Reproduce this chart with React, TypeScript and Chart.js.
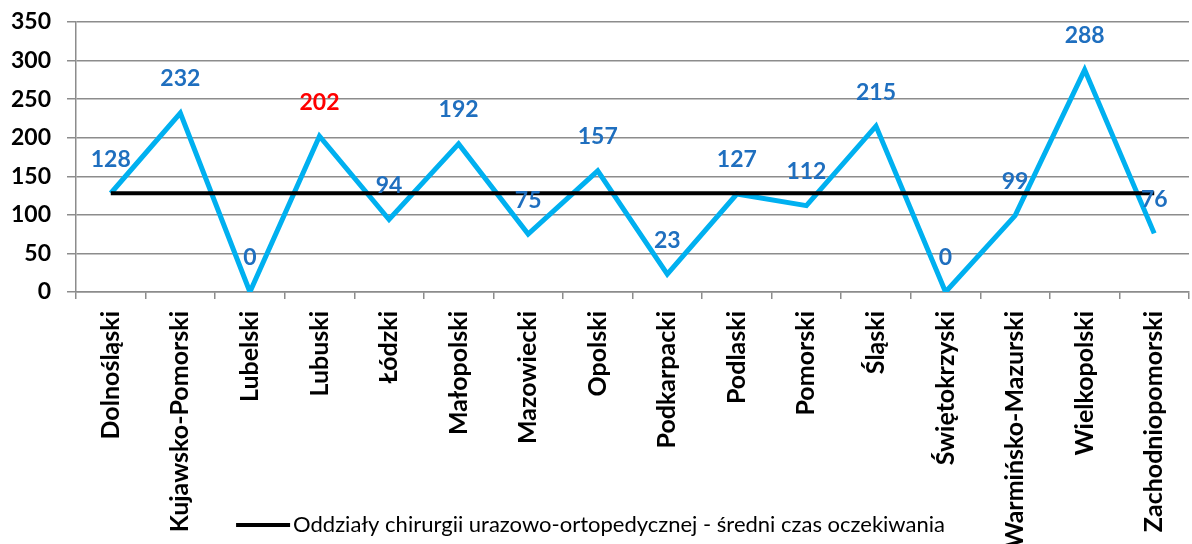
import React, { useEffect, useRef } from "react";
import { Chart, registerables } from "chart.js";

Chart.register(...registerables);

const categories = [
  "Dolnośląski",
  "Kujawsko-Pomorski",
  "Lubelski",
  "Lubuski",
  "Łódzki",
  "Małopolski",
  "Mazowiecki",
  "Opolski",
  "Podkarpacki",
  "Podlaski",
  "Pomorski",
  "Śląski",
  "Świętokrzyski",
  "Warmińsko-Mazurski",
  "Wielkopolski",
  "Zachodniopomorski",
];
const waitTimes = [128, 232, 0, 202, 94, 192, 75, 157, 23, 127, 112, 215, 0, 99, 288, 76];
const averageWait = 128;
const averageSeries = categories.map(() => averageWait);
const highlightedCategories = ["Lubuski"];
const legendLabel = "Oddziały chirurgii urazowo-ortopedycznej - średni czas oczekiwania";
const yTickMin = 0;
const yTickMax = 350;
const yTickStep = 50;

const FONT = 'Lato, "Open Sans", sans-serif';

export default function App() {
  const ref = useRef<HTMLCanvasElement | null>(null);
  useEffect(() => {
    document.body.style.margin = "0";
    const canvas = ref.current!;
    const dataLabels = {
      id: "dataLabels",
      afterDatasetsDraw(chart: any) {
        const ctx = chart.ctx;
        const meta = chart.getDatasetMeta(1);
        ctx.save();
        ctx.font = `bold 23px ${FONT}`;
        ctx.textAlign = "center";
        ctx.textBaseline = "middle";
        meta.data.forEach((pt: any, i: number) => {
          ctx.fillStyle = highlightedCategories.includes(categories[i]) ? "#FF0000" : "#1F6FBF";
          ctx.fillText(String(waitTimes[i]), pt.x, pt.y - 34);
        });
        ctx.restore();
      },
    };
    const customLegend = {
      id: "customLegend",
      afterDraw(chart: any) {
        const ctx = chart.ctx;
        ctx.save();
        ctx.font = `22px ${FONT}`;
        const tw = ctx.measureText(legendLabel).width;
        const lineW = 54;
        const gap = 3;
        const total = lineW + gap + tw;
        const x0 = 590.5 - total / 2;
        const y = 525;
        ctx.strokeStyle = "#000";
        ctx.lineWidth = 4;
        ctx.beginPath();
        ctx.moveTo(x0, y);
        ctx.lineTo(x0 + lineW, y);
        ctx.stroke();
        ctx.fillStyle = "#000";
        ctx.textBaseline = "middle";
        ctx.textAlign = "left";
        ctx.fillText(legendLabel, x0 + lineW + gap, y);
        ctx.restore();
      },
    };
    const chart = new Chart(canvas, {
      type: "line",
      data: {
        labels: categories,
        datasets: [
          {
            label: legendLabel,
            data: averageSeries,
            borderColor: "#000000",
            backgroundColor: "#000000",
            borderWidth: 4,
            pointRadius: 0,
            tension: 0,
          },
          {
            label: "Średni czas oczekiwania",
            data: waitTimes,
            borderColor: "#00B0F0",
            backgroundColor: "#00B0F0",
            borderWidth: 5,
            pointRadius: 0,
            tension: 0,
          },
        ],
      },
      options: {
        responsive: false,
        animation: false,
        layout: { padding: { top: 22, right: 3, left: 0, bottom: 0 } },
        plugins: {
          legend: { display: false },
          tooltip: { enabled: false },
        },
        scales: {
          x: {
            offset: true,
            grid: {
              offset: true,
              drawOnChartArea: false,
              drawTicks: true,
              tickLength: 7,
              color: "#8c8c8c",
              lineWidth: 1.5,
            },
            border: { display: true, color: "#8c8c8c", width: 1.5 },
            ticks: {
              color: "#000",
              font: { family: FONT, size: 25, weight: "bold" },
              maxRotation: 90,
              minRotation: 90,
              padding: 12,
              autoSkip: false,
            },
            afterFit: (s: any) => {
              s.height = 544 - 292;
              s.paddingLeft = 0;
              s.paddingRight = 0;
            },
          },
          y: {
            min: yTickMin,
            max: yTickMax,
            ticks: {
              stepSize: yTickStep,
              color: "#000",
              font: { family: FONT, size: 23, weight: "bold" },
              padding: 16,
            },
            grid: {
              color: "#8c8c8c",
              lineWidth: 1.5,
              tickLength: 9,
              drawTicks: true,
            },
            border: { display: true, color: "#8c8c8c", width: 1.5 },
            afterFit: (s: any) => {
              s.width = 76;
              s.paddingTop = 0;
              s.paddingBottom = 0;
            },
          },
        },
      },
      plugins: [dataLabels, customLegend],
    });
    return () => chart.destroy();
  }, []);
  return (
    <div style={{ width: 1192, height: 544 }}>
      <canvas ref={ref} width={1192} height={544} />
    </div>
  );
}
